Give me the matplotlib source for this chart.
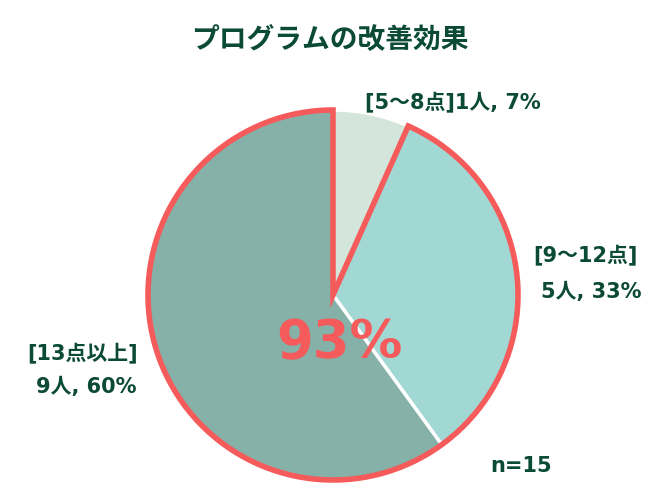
import matplotlib
matplotlib.use("Agg")
from matplotlib import pyplot as plt
from matplotlib.patches import Wedge

# Data
categories = ["[5～8点]", "[9～12点]", "[13点以上]"]
counts = [1, 5, 9]
percents = [7, 33, 60]
total = 15

colors = ["#d4e5db", "#a2d8d4", "#85b1a8"]
text_green = "#0b4a33"
red = "#f65b5b"
fonts = ["DejaVu Sans", "Noto Sans CJK JP"]

fig = plt.figure(figsize=(6.62, 4.95), dpi=100)
ax = fig.add_axes([0, 0, 1, 1])

# Pie, clockwise from the top
cx, cy, r = 333, 200, 185
ax.pie(counts, colors=colors, startangle=90, counterclock=False,
       center=(cx, cy), radius=r, frame=True,
       wedgeprops=dict(edgecolor="white", linewidth=2.5))
ax.set_xlim(0, 662)
ax.set_ylim(0, 495)
ax.axis("off")

# Red outline around the 93% share (9-12 and 13+)
first_angle = 360 * counts[0] / total
outline = Wedge((cx, cy), r, 90, 90 - first_angle + 360, fill=False,
                edgecolor=red, linewidth=4, joinstyle="miter")
ax.add_patch(outline)

improved = round(100 * (counts[1] + counts[2]) / total)
ax.text(339, 495 - 343, f"{improved}%", color=red, fontsize=38,
        fontweight="bold", family=fonts, ha="center", va="center")

# Title and labels
lbl = dict(color=text_green, fontsize=15, fontweight="bold", family=fonts,
           ha="center", va="center")
ax.text(330, 495 - 40, "プログラムの改善効果", color=text_green, fontsize=20,
        fontweight="bold", family=fonts, ha="center", va="center")
ax.text(453, 495 - 102, f"{categories[0]}{counts[0]}人, {percents[0]}%", **lbl)
ax.text(585, 495 - 255, categories[1], **lbl)
ax.text(591, 495 - 292, f"{counts[1]}人, {percents[1]}%", **lbl)
ax.text(83, 495 - 353, categories[2], **lbl)
ax.text(86, 495 - 387, f"{counts[2]}人, {percents[2]}%", **lbl)
ax.text(521, 495 - 466, f"n={total}", **lbl)

fig.savefig("out.png", dpi=100)
